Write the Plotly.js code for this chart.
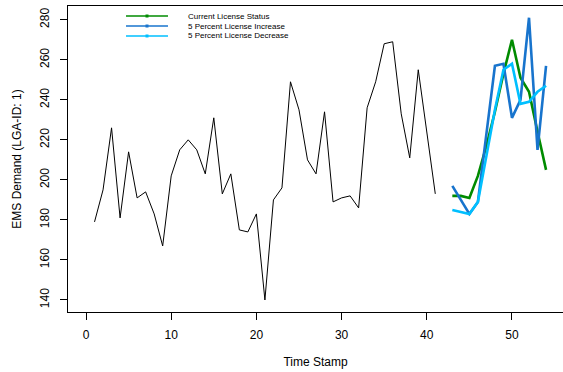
<!DOCTYPE html>
<html>
<head>
<meta charset="utf-8">
<script src="https://cdn.plot.ly/plotly-3.0.1.min.js"></script>
<style>html,body{margin:0;padding:0;overflow:hidden;background:#fff;}</style>
</head>
<body>
<div id="chart" style="width:563px;height:372px;"></div>
<script>
// Observed EMS demand (time stamps 1..41)
const obsX = [1,2,3,4,5,6,7,8,9,10,11,12,13,14,15,16,17,18,19,20,21,22,23,24,25,26,27,28,29,30,31,32,33,34,35,36,37,38,39,40,41];
const obsY = [179,195,226,181,214,191,194,183,167,202,215,220,215,203,231,193,203,175,174,183,140,190,196,249,235,210,203,234,189,191,192,186,236,249,268,269,233,211,255,224,193];

// Forecast time stamps 43..54
const fcX = [43,44,45,46,47,48,49,50,51,52,53,54];
const currentY  = [192,192,191,202,217,234,253,270,251,244,224,205];
const increaseY = [197,190,183,189,222,257,258,231,240,281,215,257];
const decreaseY = [185,184,183,189,212,235,255,258,238,239,244,247];

const seriesNames = ["Current License Status", "5 Percent License Increase", "5 Percent License Decrease"];
const seriesColors = ["#008B00", "#1874CD", "#00BFFF"];

const xTicks = [0,10,20,30,40,50];
const yTicks = [140,160,180,200,220,240,260,280];

const FONT = "Liberation Sans, Arial, Helvetica, sans-serif";

const traces = [
  {x: obsX, y: obsY, mode: "lines", line: {color: "#000", width: 1}, showlegend: false},
  {x: fcX, y: currentY, mode: "lines", name: seriesNames[0], line: {color: seriesColors[0], width: 2.6}, showlegend: false},
  {x: fcX, y: increaseY, mode: "lines", name: seriesNames[1], line: {color: seriesColors[1], width: 2.6}, showlegend: false},
  {x: fcX, y: decreaseY, mode: "lines", name: seriesNames[2], line: {color: seriesColors[2], width: 2.6}, showlegend: false}
];

// legend drawn as paper-referenced shapes + annotations
const legY = [0.9673, 0.9346, 0.9020];
const shapes = [];
const annotations = [];
seriesNames.forEach((n, i) => {
  shapes.push({type: "line", xref: "paper", yref: "paper", x0: 0.1172, x1: 0.2020, y0: legY[i], y1: legY[i],
               line: {color: seriesColors[i], width: 1.6}});
  shapes.push({type: "rect", xref: "paper", yref: "paper", xsizemode: "pixel", ysizemode: "pixel",
               xanchor: 0.1596, yanchor: legY[i], x0: -1.5, x1: 1.5, y0: -1.5, y1: 1.5,
               fillcolor: seriesColors[i], line: {width: 0}});
  annotations.push({xref: "paper", yref: "paper", x: 0.2384, y: legY[i], xanchor: "left", yanchor: "middle",
                    text: n, showarrow: false, font: {size: 8, family: FONT, color: "#000"}});
});

const layout = {
  width: 563, height: 372,
  margin: {l: 68, r: 0, t: 6, b: 60},
  paper_bgcolor: "#fff", plot_bgcolor: "#fff",
  font: {family: FONT, size: 12, color: "#000"},
  showlegend: false,
  shapes: shapes,
  annotations: annotations,
  xaxis: {
    range: [-2.113, 55.99], tickvals: xTicks, ticktext: xTicks.map(String),
    showgrid: false, zeroline: false, showline: true, mirror: true, linecolor: "#000", linewidth: 1,
    ticks: "outside", ticklen: 7, tickcolor: "#000", tickwidth: 1, ticklabelstandoff: 5,
    tickfont: {size: 12},
    title: {text: "Time Stamp", font: {size: 12}, standoff: 16}
  },
  yaxis: {
    range: [134.0, 286.86], tickvals: yTicks, ticktext: yTicks.map(String), tickangle: -90,
    showgrid: false, zeroline: false, showline: true, mirror: true, linecolor: "#000", linewidth: 1,
    ticks: "outside", ticklen: 7, tickcolor: "#000", tickwidth: 1, ticklabelstandoff: 6,
    tickfont: {size: 12},
    title: {text: "EMS Demand (LGA-ID: 1)", font: {size: 12}, standoff: 14}
  }
};

Plotly.newPlot("chart", traces, layout, {staticPlot: true, displayModeBar: false});
</script>
</body>
</html>
